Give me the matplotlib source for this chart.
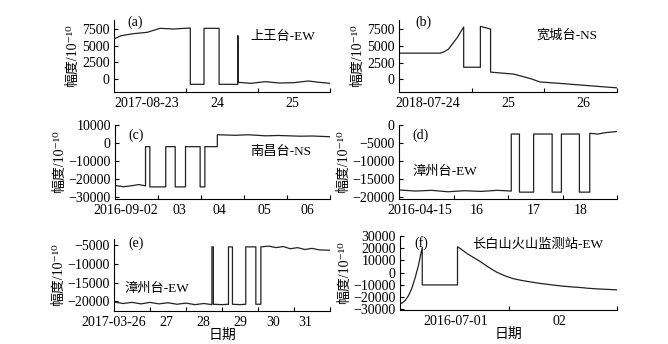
import matplotlib
matplotlib.use('Agg')
import matplotlib.pyplot as plt

plt.rcParams['font.family'] = ['Liberation Serif', 'Noto Sans CJK SC', 'DejaVu Serif']
plt.rcParams['font.size'] = 10

# (a) 上王台-EW, days from 2017-08-23 00:00
a_t = [0.00, 0.10, 0.27, 0.46, 0.64, 0.83, 1.06, 1.06, 1.25, 1.25, 1.46, 1.46,
       1.72, 1.72, 1.725, 1.90, 2.10, 2.30, 2.50, 2.70, 2.85, 3.00]
a_v = [6000, 6500, 6800, 7000, 7600, 7500, 7650, -800, -800, 7600, 7600, -800,
       -800, 6500, -500, -650, -400, -600, -550, -300, -500, -650]

# (b) 宽城台-NS, days from 2018-07-24
b_t = [0.00, 0.57, 0.62, 0.68, 0.80, 0.89, 0.89, 1.12, 1.12, 1.26, 1.26, 1.58,
       1.81, 1.94, 2.27, 2.63, 3.00]
b_v = [3900, 3900, 4100, 4500, 6200, 7800, 1800, 1800, 7900, 7500, 1070, 770,
       100, -400, -660, -970, -1280]

# (c) 南昌台-NS, days from 2016-09-02
c_t = [0.00, 0.20, 0.40, 0.55, 0.71, 0.71, 0.81, 0.81, 1.18, 1.18, 1.40, 1.40,
       1.64, 1.64, 1.98, 1.98, 2.09, 2.09, 2.38, 2.38, 2.80, 3.10, 3.50, 3.80,
       4.30, 4.60, 5.00]
c_v = [-23500, -24200, -23600, -23000, -23700, -2000, -2000, -24300, -24300,
       -2000, -2000, -24300, -24300, -2000, -2000, -24300, -24300, -2000, -2000,
       4600, 4300, 4600, 4000, 4200, 3800, 3900, 3500]

# (d) 漳州台-EW, days from 2016-04-15
d_t = [0.00, 0.30, 0.60, 0.90, 1.20, 1.50, 1.80, 2.06, 2.06, 2.21, 2.21, 2.47,
       2.47, 2.81, 2.81, 2.98, 2.98, 3.31, 3.31, 3.50, 3.50, 3.65, 3.80, 4.00]
d_v = [-18000, -18300, -18100, -18500, -18200, -18400, -18100, -18300, -2500,
       -2500, -18600, -18600, -2500, -2500, -18600, -18600, -2500, -2500,
       -18600, -18600, -2300, -2500, -2100, -1800]

# (e) 漳州台-EW, days from 2017-03-26
e_t = [0.00, 0.25, 0.50, 0.75, 1.00, 1.25, 1.50, 1.75, 2.00, 2.25, 2.50, 2.72,
       2.72, 2.76, 2.76, 3.00, 3.18, 3.18, 3.29, 3.29, 3.50, 3.66, 3.66, 3.94,
       3.94, 4.08, 4.08, 4.30, 4.50, 4.70, 4.90, 5.10, 5.30, 5.50, 5.70, 6.00]
e_v = [-20200, -20600, -20300, -20700, -20300, -20700, -20400, -20800, -20500,
       -20900, -20600, -20900, -5500, -5500, -20800, -20900, -20800, -5500,
       -5500, -20800, -20900, -20800, -5500, -5500, -20800, -20800, -5500,
       -5300, -5700, -5400, -6000, -5700, -6200, -5900, -6300, -6400]

# (f) 长白山火山监测站-EW, days from 2016-06-30
f_t = [0.00, 0.02, 0.05, 0.08, 0.11, 0.14, 0.17, 0.19, 0.205, 0.205, 0.53, 0.53,
       0.56, 0.62, 0.68, 0.74, 0.81, 0.89, 0.96, 1.04, 1.12, 1.20, 1.27, 1.35,
       1.42, 1.50, 1.58, 1.66, 1.73, 1.81, 1.90, 2.00]
f_v = [-25000, -24800, -22500, -18500, -12500, -4000, 6000, 14500, 20500,
       -10000, -10000, 21200, 19500, 15500, 12300, 9100, 4800, 500, -2300,
       -4800, -6300, -7500, -8500, -9400, -10200, -11000, -11600, -12100,
       -12700, -13200, -13600, -14000]

a_labels = ['2017-08-23', '24', '25']
b_labels = ['2018-07-24', '25', '26']
c_labels = ['2016-09-02', '03', '04', '05', '06']
d_labels = ['2016-04-15', '16', '17', '18']
e_labels = ['2017-03-26', '27', '28', '29', '30', '31']
f_labels = ['2016-07-01', '02']

W, H = 668, 344
fig = plt.figure(figsize=(W / 100, H / 100), dpi=100)


def panel(box, t, v, xmax, ylim, yticks, labels, label_pos, tag, tag_xy,
          station, station_xy, xlabel=False):
    l, top, r, b = box
    ax = fig.add_axes([l / W, 1 - b / H, (r - l) / W, (b - top) / H])
    ax.plot(t, v, color='#222222', lw=0.9)
    ax.set_xlim(0, xmax)
    ax.set_ylim(*ylim)
    ax.set_yticks(yticks)
    ax.set_xticks(range(1, xmax + 1))
    ax.set_xticklabels([])
    ax.set_xticks(label_pos, labels, minor=True)
    ax.tick_params(axis='both', which='major', direction='in', length=3,
                   width=0.8, labelsize=10, pad=3)
    ax.tick_params(axis='x', which='minor', length=0, labelsize=10, pad=3.5)
    for s in ['top', 'right']:
        ax.spines[s].set_visible(False)
    for s in ['left', 'bottom']:
        ax.spines[s].set_linewidth(0.8)
    ax.set_ylabel('幅度/10⁻¹⁰', fontsize=10, labelpad=2)
    if xlabel:
        ax.set_xlabel('日期', fontsize=10, labelpad=0)
    ax.text(tag_xy[0], tag_xy[1], tag, transform=ax.transAxes, fontsize=10,
            ha='center', va='center')
    ax.text(station_xy[0], station_xy[1], station, transform=ax.transAxes,
            fontsize=9.5, ha='center', va='center')
    return ax


panel((114, 20, 330, 92), a_t, a_v, 3, (-1950, 8850), [0, 2500, 5000, 7500],
      a_labels, [0.46, 1.44, 2.48], '(a)', (0.10, 0.97), '上王台-EW', (0.78, 0.76))
panel((399, 20, 617, 92), b_t, b_v, 3, (-1900, 8850), [0, 2500, 5000, 7500],
      b_labels, [0.39, 1.51, 2.53], '(b)', (0.11, 0.97), '宽城台-NS', (0.77, 0.79))
panel((115, 125, 330, 199), c_t, c_v, 5, (-31000, 10000),
      [-30000, -20000, -10000, 0, 10000],
      c_labels, [0.25, 1.5, 2.44, 3.47, 4.47], '(c)', (0.10, 0.86), '南昌台-NS', (0.77, 0.64))
panel((399, 125, 617, 199), d_t, d_v, 4, (-20500, 0),
      [-20000, -15000, -10000, -5000, 0],
      d_labels, [0.38, 1.43, 2.47, 3.33], '(d)', (0.10, 0.86), '漳州台-EW', (0.21, 0.37))
panel((114, 239, 330, 311), e_t, e_v, 6, (-22600, -3400),
      [-20000, -15000, -10000, -5000],
      e_labels, [0.0, 1.46, 2.48, 3.5, 4.43, 5.31], '(e)', (0.10, 0.94), '漳州台-EW',
      (0.20, 0.315), xlabel=True)
panel((400, 236, 617, 310), f_t, f_v, 2, (-30500, 30000),
      [-30000, -20000, -10000, 0, 10000, 20000, 30000],
      f_labels, [0.51, 1.47], '(f)', (0.096, 0.90), '长白山火山监测站-EW', (0.636, 0.88),
      xlabel=True)

fig.savefig('out.png', dpi=100)
